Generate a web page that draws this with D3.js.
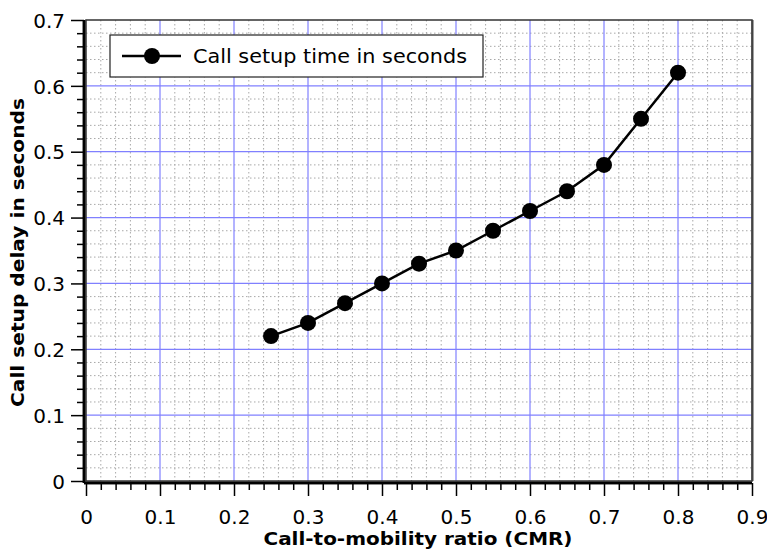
<!DOCTYPE html>
<html>
<head>
<meta charset="utf-8">
<script src="https://cdn.jsdelivr.net/npm/d3@7"></script>
<style>
  body { margin: 0; background: #fff; }
  svg { display: block; font-family: "DejaVu Sans", sans-serif; }
  .tick text { font-size: 20px; font-family: "DejaVu Sans", sans-serif; }
</style>
</head>
<body>
<svg id="chart" width="767" height="558"></svg>
<script>
const cmr = [0.25, 0.3, 0.35, 0.4, 0.45, 0.5, 0.55, 0.6, 0.65, 0.7, 0.75, 0.8];
const delay = [0.22, 0.24, 0.27, 0.30, 0.33, 0.35, 0.38, 0.41, 0.44, 0.48, 0.55, 0.62];
const xTicks = [0, 0.1, 0.2, 0.3, 0.4, 0.5, 0.6, 0.7, 0.8, 0.9];
const yTicks = [0, 0.1, 0.2, 0.3, 0.4, 0.5, 0.6, 0.7];
const seriesName = "Call setup time in seconds";
const xTitle = "Call-to-mobility ratio (CMR)";
const yTitle = "Call setup delay in seconds";

const FONT = '"DejaVu Sans", sans-serif';
const svg = d3.select("#chart");
const L = 86, R = 752, T = 20, B = 481;
const x = d3.scaleLinear().domain([0, 0.9]).range([L, R]);
const y = d3.scaleLinear().domain([0, 0.7]).range([B, T]);

const xMinor = d3.range(0, 0.9001, 0.02).map(v => +v.toFixed(2)).filter(v => !xTicks.some(t => Math.abs(t - v) < 1e-9));
const yMinor = d3.range(0, 0.7001, 0.02).map(v => +v.toFixed(2)).filter(v => !yTicks.some(t => Math.abs(t - v) < 1e-9));

const g = svg.append("g");
g.selectAll(".mx").data(xMinor).join("line")
  .attr("x1", d => x(d)).attr("x2", d => x(d)).attr("y1", T).attr("y2", B)
  .attr("stroke", "#a8a8a8").attr("stroke-width", 1).attr("stroke-dasharray", "1.5,2.5");
g.selectAll(".my").data(yMinor).join("line")
  .attr("y1", d => y(d)).attr("y2", d => y(d)).attr("x1", L).attr("x2", R)
  .attr("stroke", "#a8a8a8").attr("stroke-width", 1).attr("stroke-dasharray", "1.5,2.5");
g.selectAll(".Mx").data(xTicks.slice(1, -1)).join("line")
  .attr("x1", d => x(d)).attr("x2", d => x(d)).attr("y1", T).attr("y2", B)
  .attr("stroke", "#8080ff").attr("stroke-width", 1.2);
g.selectAll(".My").data(yTicks.slice(1, -1)).join("line")
  .attr("y1", d => y(d)).attr("y2", d => y(d)).attr("x1", L).attr("x2", R)
  .attr("stroke", "#8080ff").attr("stroke-width", 1.2);

svg.append("rect").attr("x", L).attr("y", T).attr("width", R - L).attr("height", B - T)
  .attr("fill", "none").attr("stroke", "#333").attr("stroke-width", 1.5);
svg.append("line").attr("x1", R + 0.5).attr("x2", R + 0.5).attr("y1", T).attr("y2", B)
  .attr("stroke", "#444").attr("stroke-width", 2);

const fmt = d => d === 0 ? "0" : d3.format(".1f")(d);
const xAxis = svg.append("g").attr("transform", `translate(0,${B + 2})`)
  .call(d3.axisBottom(x).tickValues(xTicks).tickFormat(fmt).tickSize(13));
const xAxisMinor = svg.append("g").attr("transform", `translate(0,${B + 2})`)
  .call(d3.axisBottom(x).tickValues(xMinor).tickFormat("").tickSize(7));
const yAxis = svg.append("g").attr("transform", `translate(${L - 2},0)`)
  .call(d3.axisLeft(y).tickValues(yTicks).tickFormat(fmt).tickSize(13).tickPadding(6));
const yAxisMinor = svg.append("g").attr("transform", `translate(${L - 2},0)`)
  .call(d3.axisLeft(y).tickValues(yMinor).tickFormat("").tickSize(7));
[xAxis, xAxisMinor, yAxis, yAxisMinor].forEach(a => {
  a.select(".domain").attr("stroke", "#000").attr("stroke-width", 2.5);
  a.selectAll(".tick line").attr("stroke", "#000").attr("stroke-width", 1.5);
  a.selectAll("text").attr("fill", "#000");
});
xAxis.selectAll(".tick text").attr("y", 41).attr("dy", null);
yAxis.selectAll(".tick text").attr("dy", "0.36em");
xAxis.select(".domain").attr("d", `M${L - 2},0H${R}`);
xAxisMinor.select(".domain").attr("d", `M${L - 2},0H${R}`);
yAxis.select(".domain").attr("d", `M0,${T}V${B + 2}`);
yAxisMinor.select(".domain").attr("d", `M0,${T}V${B + 2}`);

const pts = cmr.map((c, i) => [c, delay[i]]);
svg.append("path").datum(pts)
  .attr("d", d3.line().x(d => x(d[0])).y(d => y(d[1])))
  .attr("fill", "none").attr("stroke", "#000").attr("stroke-width", 2.5);
svg.selectAll(".pt").data(pts).join("circle")
  .attr("cx", d => x(d[0])).attr("cy", d => y(d[1])).attr("r", 8).attr("fill", "#000");

const lg = svg.append("g");
lg.append("rect").attr("x", 110).attr("y", 35).attr("width", 373).attr("height", 42)
  .attr("fill", "#fff").attr("stroke", "#222").attr("stroke-width", 1.2);
lg.append("line").attr("x1", 122).attr("x2", 181).attr("y1", 56).attr("y2", 56)
  .attr("stroke", "#000").attr("stroke-width", 2.5);
lg.append("circle").attr("cx", 152).attr("cy", 56).attr("r", 8).attr("fill", "#000");
lg.append("text").attr("x", 193).attr("y", 63).text(seriesName)
  .attr("font-family", FONT).attr("font-size", 19).attr("fill", "#000")
  .attr("textLength", 274).attr("lengthAdjust", "spacingAndGlyphs");

svg.append("text").attr("x", 418).attr("y", 545).attr("text-anchor", "middle")
  .attr("font-family", FONT).attr("font-weight", "bold").attr("font-size", 17).text(xTitle)
  .attr("textLength", 309).attr("lengthAdjust", "spacingAndGlyphs");
svg.append("text").attr("transform", `translate(24,252.5) rotate(-90)`).attr("text-anchor", "middle")
  .attr("font-family", FONT).attr("font-weight", "bold").attr("font-size", 17).text(yTitle)
  .attr("textLength", 309).attr("lengthAdjust", "spacingAndGlyphs");
</script>
</body>
</html>
